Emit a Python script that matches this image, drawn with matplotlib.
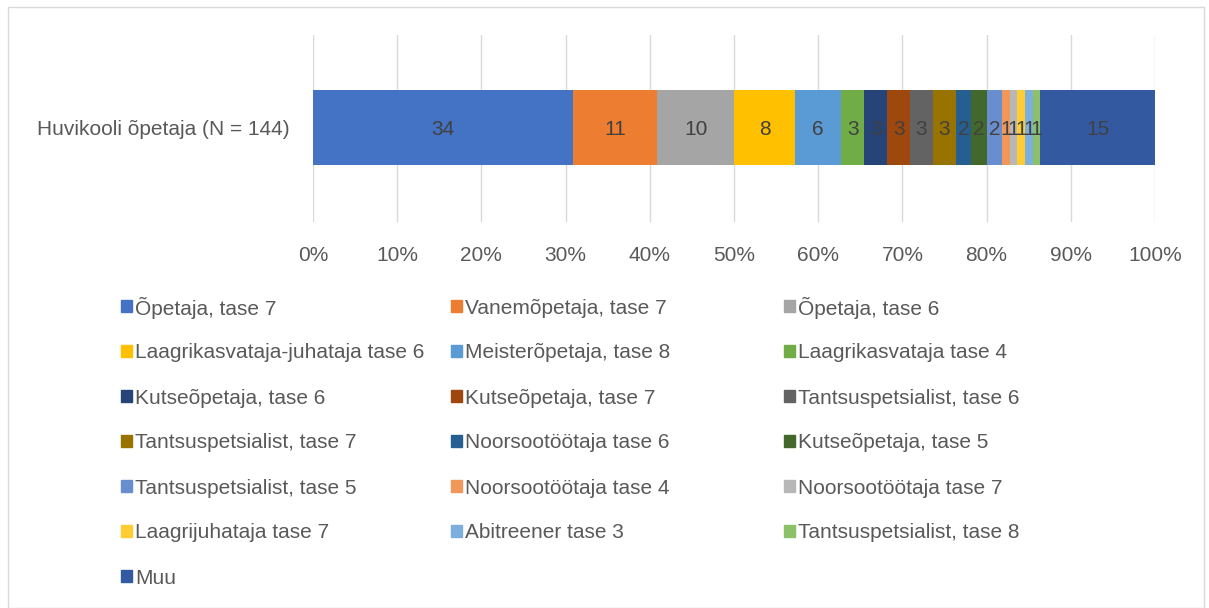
import matplotlib.pyplot as plt
from matplotlib.patches import Rectangle
import numpy as np

plt.rcParams['font.family'] = ['Liberation Sans', 'DejaVu Sans']

# data
category = 'Huvikooli õpetaja (N = 144)'
labels = ['Õpetaja, tase 7', 'Vanemõpetaja, tase 7', 'Õpetaja, tase 6',
          'Laagrikasvataja-juhataja tase 6', 'Meisterõpetaja, tase 8', 'Laagrikasvataja tase 4',
          'Kutseõpetaja, tase 6', 'Kutseõpetaja, tase 7', 'Tantsuspetsialist, tase 6',
          'Tantsuspetsialist, tase 7', 'Noorsootöötaja tase 6', 'Kutseõpetaja, tase 5',
          'Tantsuspetsialist, tase 5', 'Noorsootöötaja tase 4', 'Noorsootöötaja tase 7',
          'Laagrijuhataja tase 7', 'Abitreener tase 3', 'Tantsuspetsialist, tase 8',
          'Muu']
counts = [34, 11, 10, 8, 6, 3, 3, 3, 3, 3, 2, 2, 2, 1, 1, 1, 1, 1, 15]
colors = ['#4472C4', '#ED7D31', '#A5A5A5', '#FFC000', '#5B9BD5', '#70AD47',
          '#264478', '#9E480E', '#636363', '#997300', '#255E91', '#43682B',
          '#698ED0', '#F1975A', '#B7B7B7', '#FFCD33', '#7CAFDD', '#8CC168',
          '#335AA1']

txt = '#595959'
fs = 15
counts = np.array(counts, dtype=float)
shares = counts / counts.sum()

fig = plt.figure(figsize=(12.09, 6.08), dpi=100)
ax = fig.add_axes([313 / 1209, 1 - 222 / 608, (1155 - 313) / 1209, 187 / 608])

left = 0.0
for lab, c, s, col in zip(labels, counts, shares, colors):
    ax.barh([0], [s], left=left, height=0.4, color=col, label=lab, zorder=3)
    ax.text(left + s / 2, 0, f'{int(c)}', ha='center', va='center_baseline',
            fontsize=fs, color='#404040', zorder=4)
    left += s

ax.set_xlim(0, 1)
ax.set_ylim(-0.505, 0.495)
ax.set_xticks(np.linspace(0, 1, 11))
ax.set_xticklabels([f'{i}%' for i in range(0, 101, 10)], fontsize=fs, color=txt)
ax.set_yticks([0])
ax.set_yticklabels([category], fontsize=fs, color=txt)
ax.tick_params(length=0, axis='x', pad=17)
ax.tick_params(length=0, axis='y', pad=17)
ax.grid(axis='x', color='#D9D9D9', linewidth=1, zorder=0)
for sp in ax.spines.values():
    sp.set_visible(False)

# legend, row-wise in 3 columns
col_x = [121, 451, 784]
for i, (lab, col) in enumerate(zip(labels, colors)):
    r, k = divmod(i, 3)
    x = col_x[k]
    y = 306 + r * 45
    fig.patches.append(Rectangle((x / 1209, 1 - (y + 6) / 608), 11 / 1209, 12 / 608,
                                 transform=fig.transFigure, color=col))
    fig.text((x + 14) / 1209, 1 - y / 608, lab, fontsize=fs, color=txt,
             ha='left', va='center_baseline')

# chart border
fig.patches.append(Rectangle((8 / 1209, 0.0), 1196 / 1209, 1 - 7 / 608,
                             transform=fig.transFigure, fill=False,
                             edgecolor='#D9D9D9', linewidth=1))

fig.savefig('out.png', dpi=100)
